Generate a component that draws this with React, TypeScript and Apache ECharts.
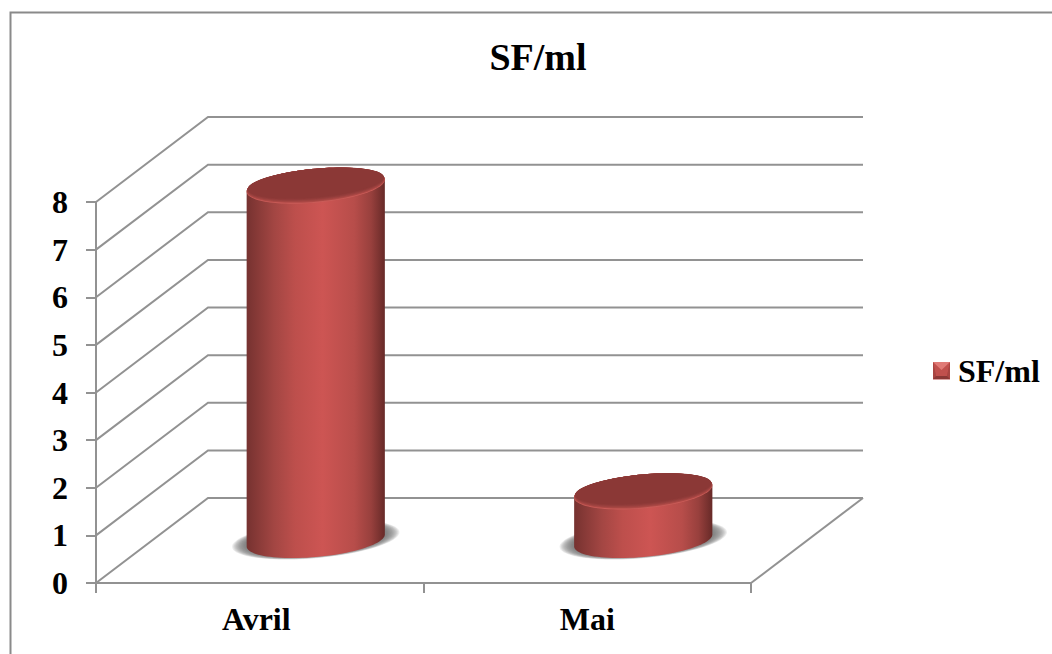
import React, { useEffect, useRef } from "react";
import * as echarts from "echarts";

const chartTitle = "SF/ml";
const seriesName = "SF/ml";
const categories = ["Avril", "Mai"];
const sfValues = [7.45, 1.03];
const yTicks = [0, 1, 2, 3, 4, 5, 6, 7, 8];

// Oblique projection of the chart box: how far the back wall sits from the front plane.
const DEPTH_X = 112;
const DEPTH_Y = 85;
const AXIS_GREY = "#929292";
const AXIS_WIDTH = 2;
const SERIF = '"Liberation Serif", "Times New Roman", serif';

// Cap shading, from the bright front edge up to the flat dark face.
const capShades = ["#c95c58", "#b04a47", "#a44542", "#9b413f", "#933d3b", "#8e3a38", "#8b3836"];

// Points of a sheared ellipse, the shape of a cylinder's cap seen from above.
function capPoints(cx: number, cy: number, a: number, b: number, slope: number) {
  const pts: number[][] = [];
  for (let i = 0; i < 96; i++) {
    const t = (i / 96) * Math.PI * 2;
    pts.push([cx + a * Math.cos(t), cy + b * Math.sin(t) + slope * a * Math.cos(t)]);
  }
  return pts;
}

// Cylinder outline: lower half of the base cap followed by the upper half of the top cap.
function bodyPoints(cx: number, topY: number, baseY: number, a: number, b: number, slope: number) {
  const pts: number[][] = [];
  for (let i = 0; i <= 48; i++) {
    const t = (i / 48) * Math.PI;
    pts.push([cx + a * Math.cos(t), baseY + b * Math.sin(t) + slope * a * Math.cos(t)]);
  }
  for (let i = 0; i <= 48; i++) {
    const t = Math.PI + (i / 48) * Math.PI;
    pts.push([cx + a * Math.cos(t), topY + b * Math.sin(t) + slope * a * Math.cos(t)]);
  }
  return pts;
}

const bodyFill = new echarts.graphic.LinearGradient(0, 0, 1, 0, [
  { offset: 0, color: "#763230" },
  { offset: 0.2, color: "#a34643" },
  { offset: 0.35, color: "#bd4f4c" },
  { offset: 0.55, color: "#cd5553" },
  { offset: 0.78, color: "#b74d4a" },
  { offset: 0.9, color: "#98403d" },
  { offset: 1, color: "#672a28" },
]);

function renderWalls(params: any, api: any) {
  const g = params.coordSys;
  const y = api.coord([0, api.value(0)])[1];
  const left = g.x;
  const right = g.x + g.width;
  const lineStyle = { stroke: AXIS_GREY, lineWidth: AXIS_WIDTH, fill: "none" };
  const children: any[] = [
    {
      type: "polyline",
      shape: {
        points: [
          [left, y],
          [left + DEPTH_X, y - DEPTH_Y],
          [right + DEPTH_X, y - DEPTH_Y],
        ],
      },
      style: lineStyle,
    },
  ];
  if (api.value(0) === 0) {
    children.push({
      type: "line",
      shape: { x1: right, y1: y, x2: right + DEPTH_X, y2: y - DEPTH_Y },
      style: lineStyle,
    });
  }
  return { type: "group", children };
}

function renderCylinder(_params: any, api: any) {
  const base = api.coord([api.value(0), 0]);
  const top = api.coord([api.value(0), api.value(1)]);
  const cx = base[0] + DEPTH_X / 2;
  const baseY = base[1] - DEPTH_Y / 2;
  const topY = top[1] - DEPTH_Y / 2;
  const a = api.size([1, 0])[0] * 0.211;
  const b = 16.5;
  const slope = -0.087;

  // Soft floor shadow built from nested translucent ellipses.
  const shadow: any[] = [];
  for (let k = 0; k < 12; k++) {
    const f = 1 - k / 12;
    shadow.push({
      type: "polygon",
      shape: { points: capPoints(cx, baseY - 1, a * (1.01 + 0.2 * f), b * (1 + 0.13 * f), slope) },
      style: { fill: "rgba(110,110,110,0.13)" },
    });
  }

  const cap = capShades.map((fill, i) => ({
    type: "polygon",
    shape: { points: capPoints(cx, topY - i * 0.45, a * (1 - i * 0.003), b + 0.5 - i * 0.45, slope) },
    style: { fill },
  }));

  return {
    type: "group",
    children: [
      ...shadow,
      { type: "polygon", shape: { points: bodyPoints(cx, topY, baseY, a, b, slope) }, style: { fill: bodyFill } },
      ...cap,
    ],
  };
}

export default function App() {
  const ref = useRef<HTMLDivElement>(null);

  useEffect(() => {
    document.body.style.margin = "0";
    const chart = echarts.init(ref.current!, undefined, { renderer: "svg" });
    const labelFont = { fontFamily: SERIF, fontWeight: "bold", fontSize: 32, color: "#000" };
    chart.setOption({
      animation: false,
      backgroundColor: "#ffffff",
      title: {
        text: chartTitle,
        left: 533,
        top: 33,
        textAlign: "center",
        textStyle: { fontFamily: SERIF, fontWeight: "bold", fontSize: 38, color: "#000" },
      },
      legend: {
        data: [{ name: seriesName, icon: "rect", itemStyle: { color: "#b4403e" } }],
        left: 928,
        top: 350,
        orient: "vertical",
        itemWidth: 17,
        itemHeight: 17,
        itemGap: 0,
        selectedMode: false,
        formatter: seriesName,
        textStyle: { fontFamily: SERIF, fontWeight: "bold", fontSize: 32, color: "#000", padding: [0, 0, 0, 3] },
      },
      grid: { left: 96, top: 202, width: 655, height: 381 },
      xAxis: {
        type: "category",
        data: categories,
        axisLine: { lineStyle: { color: AXIS_GREY, width: AXIS_WIDTH } },
        axisTick: { show: true, length: 10, lineStyle: { color: AXIS_GREY, width: AXIS_WIDTH } },
        axisLabel: {
          ...labelFont,
          margin: 20,
          formatter: (v: string) => (v === categories[0] ? `{first|${v}}` : `{rest|${v}}`),
          rich: { first: { ...labelFont, padding: [0, 7, 0, 0] }, rest: { ...labelFont } },
        },
      },
      yAxis: {
        type: "value",
        min: 0,
        max: 8,
        interval: 1,
        splitLine: { show: false },
        axisLine: { show: true, lineStyle: { color: AXIS_GREY, width: AXIS_WIDTH } },
        axisTick: { show: true, length: 10, lineStyle: { color: AXIS_GREY, width: AXIS_WIDTH } },
        axisLabel: { ...labelFont, margin: 28 },
      },
      graphic: [
        {
          type: "rect",
          z: -1,
          shape: { x: 10.5, y: 12.5, width: 1060, height: 660 },
          style: { fill: "#fff", stroke: "#8a8a8a", lineWidth: 2 },
        },
        // Bevel facets of the legend swatch.
        {
          type: "group",
          x: 933,
          y: 362,
          z: 20,
          children: [
            { type: "polygon", z: 20, shape: { points: [[0, 0], [17, 0], [14, 14], [3, 14]] }, style: { fill: "#c0504d" } },
            { type: "polygon", z: 21, shape: { points: [[0, 0], [17, 0], [8.5, 8]] }, style: { fill: "#e07a76" } },
            { type: "polygon", z: 21, shape: { points: [[0, 0], [3, 14], [0, 17]] }, style: { fill: "#a84542" } },
            { type: "polygon", z: 21, shape: { points: [[17, 0], [14, 14], [17, 17]] }, style: { fill: "#a84542" } },
            { type: "polygon", z: 21, shape: { points: [[0, 17], [3, 14], [14, 14], [17, 17]] }, style: { fill: "#8b3836" } },
          ],
        },
      ],
      series: [
        {
          type: "custom",
          name: "walls",
          silent: true,
          z: 1,
          renderItem: renderWalls,
          data: yTicks.map((v) => [v]),
          encode: { y: 0 },
        },
        {
          type: "custom",
          name: seriesName,
          silent: true,
          z: 3,
          itemStyle: { color: "#b4403e" },
          renderItem: renderCylinder,
          data: categories.map((c, i) => [i, sfValues[i]]),
          encode: { x: 0, y: 1 },
        },
      ],
    });
    return () => chart.dispose();
  }, []);

  return <div ref={ref} style={{ position: "absolute", left: 0, top: 0, width: 1052, height: 654 }} />;
}
